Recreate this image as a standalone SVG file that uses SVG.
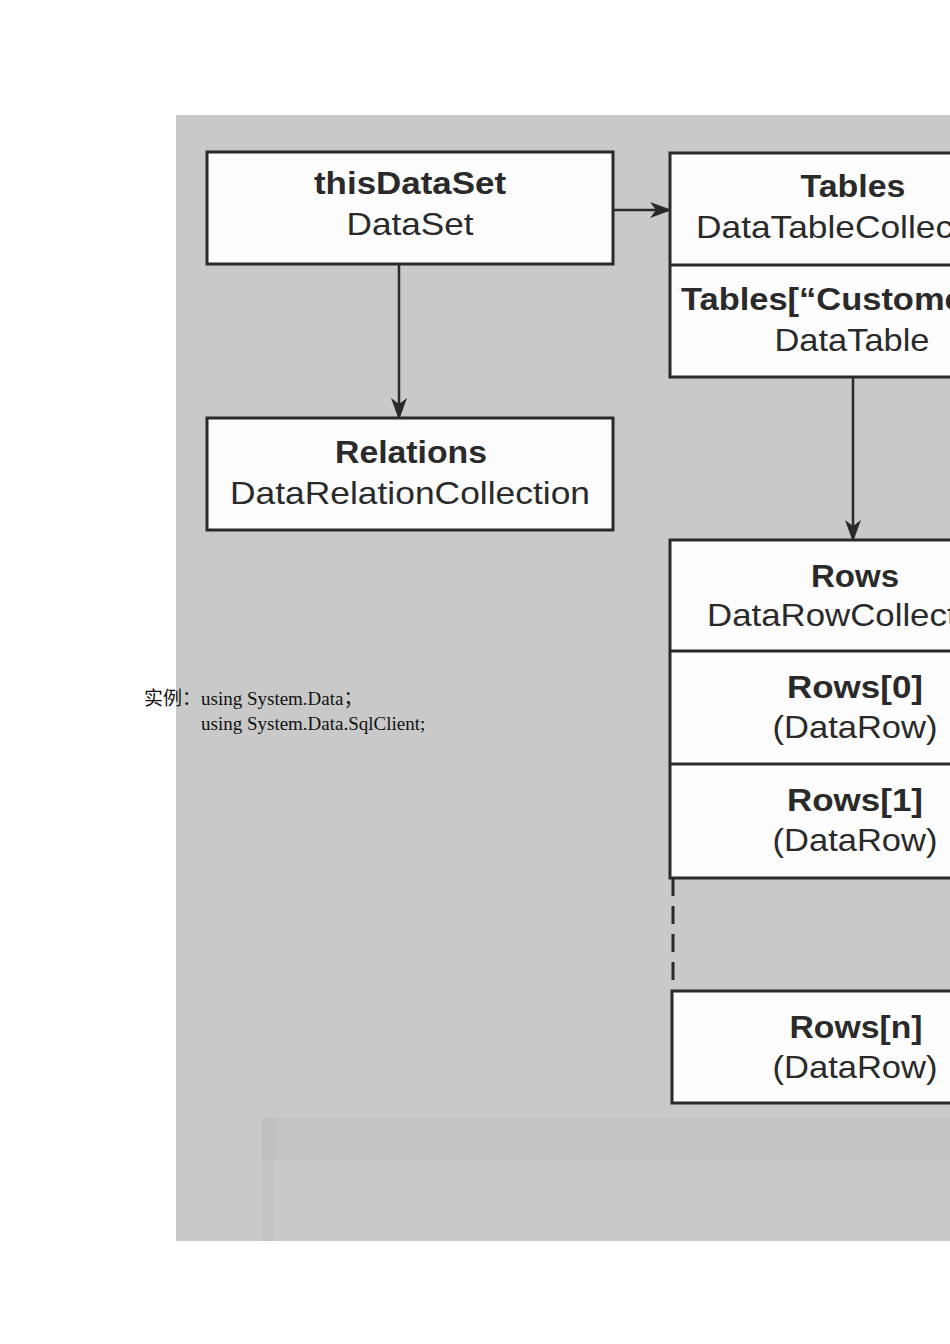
<svg xmlns="http://www.w3.org/2000/svg" width="950" height="1344" viewBox="0 0 950 1344">
<style>
.box{fill:#fdfdfd;stroke:#2a2a2a;stroke-width:3}
.div{stroke:#2a2a2a;stroke-width:3}
.t{font-family:"Liberation Sans Narrow","Liberation Sans",Arial,sans-serif;font-size:32px;fill:#2a2a2a;text-anchor:middle}
.b{font-weight:bold}
.con{stroke:#2a2a2a;stroke-width:2.5;fill:none}
.cap{font-family:"Liberation Serif","Noto Sans CJK SC",serif;font-size:19px;fill:#111}
</style>
<defs>
<marker id="ah2" markerWidth="22" markerHeight="22" refX="20" refY="11" orient="auto" markerUnits="userSpaceOnUse" viewBox="0 0 22 22">
<path d="M0,3 L22,11 L0,19 L6,11 Z" fill="#2a2a2a"/>
</marker>
</defs>
<rect x="0" y="0" width="950" height="1344" fill="#ffffff"/>
<rect x="176" y="115" width="774" height="1126" fill="#c9c9c9"/>
<rect x="262" y="1118" width="688" height="42" fill="#bcbcbc" opacity="0.45"/>
<rect x="262" y="1118" width="12" height="123" fill="#bcbcbc" opacity="0.45"/>

<g id="connectors">
<line class="con" x1="613" y1="210" x2="670" y2="210" marker-end="url(#ah2)"/>
<line class="con" x1="399" y1="264" x2="399" y2="418" marker-end="url(#ah2)"/>
<line class="con" x1="853" y1="377" x2="853" y2="540" marker-end="url(#ah2)"/>
<line x1="673" y1="878" x2="673" y2="990" stroke="#2a2a2a" stroke-width="3" stroke-dasharray="18,10"/>
</g>

<g id="thisDataSet">
<rect class="box" x="207" y="152" width="406" height="112"/>
<text class="t b" x="410" y="194" textLength="192" lengthAdjust="spacingAndGlyphs">thisDataSet</text>
<text class="t" x="410" y="235" textLength="127" lengthAdjust="spacingAndGlyphs">DataSet</text>
</g>

<g id="Relations">
<rect class="box" x="207" y="418" width="406" height="112"/>
<text class="t b" x="411" y="463" textLength="152" lengthAdjust="spacingAndGlyphs">Relations</text>
<text class="t" x="410" y="504" textLength="360" lengthAdjust="spacingAndGlyphs">DataRelationCollection</text>
</g>

<g id="Tables">
<rect class="box" x="670" y="153" width="370" height="224"/>
<line class="div" x1="670" y1="265" x2="1040" y2="265"/>
<text class="t b" x="853" y="197" textLength="105" lengthAdjust="spacingAndGlyphs">Tables</text>
<text class="t" x="853" y="238" textLength="314" lengthAdjust="spacingAndGlyphs">DataTableCollection</text>
<text class="t b" x="853" y="310" textLength="344" lengthAdjust="spacingAndGlyphs">Tables[“Customers”]</text>
<text class="t" x="852" y="351" textLength="155" lengthAdjust="spacingAndGlyphs">DataTable</text>
</g>

<g id="Rows">
<rect class="box" x="670" y="540" width="370" height="338"/>
<line class="div" x1="670" y1="651" x2="1040" y2="651"/>
<line class="div" x1="670" y1="764" x2="1040" y2="764"/>
<text class="t b" x="855" y="587" textLength="88" lengthAdjust="spacingAndGlyphs">Rows</text>
<text class="t" x="855" y="626" textLength="296" lengthAdjust="spacingAndGlyphs">DataRowCollection</text>
<text class="t b" x="855" y="698" textLength="136" lengthAdjust="spacingAndGlyphs">Rows[0]</text>
<text class="t" x="855" y="738" textLength="165" lengthAdjust="spacingAndGlyphs">(DataRow)</text>
<text class="t b" x="855" y="811" textLength="136" lengthAdjust="spacingAndGlyphs">Rows[1]</text>
<text class="t" x="855" y="851" textLength="165" lengthAdjust="spacingAndGlyphs">(DataRow)</text>
</g>

<g id="RowsN">
<rect class="box" x="672" y="991" width="370" height="112"/>
<text class="t b" x="856" y="1038" textLength="133" lengthAdjust="spacingAndGlyphs">Rows[n]</text>
<text class="t" x="855" y="1078" textLength="165" lengthAdjust="spacingAndGlyphs">(DataRow)</text>
</g>

<g id="caption">
<text class="cap" x="144" y="705">实例：using System.Data；</text>
<text class="cap" x="201" y="730">using System.Data.SqlClient;</text>
</g>
</svg>
